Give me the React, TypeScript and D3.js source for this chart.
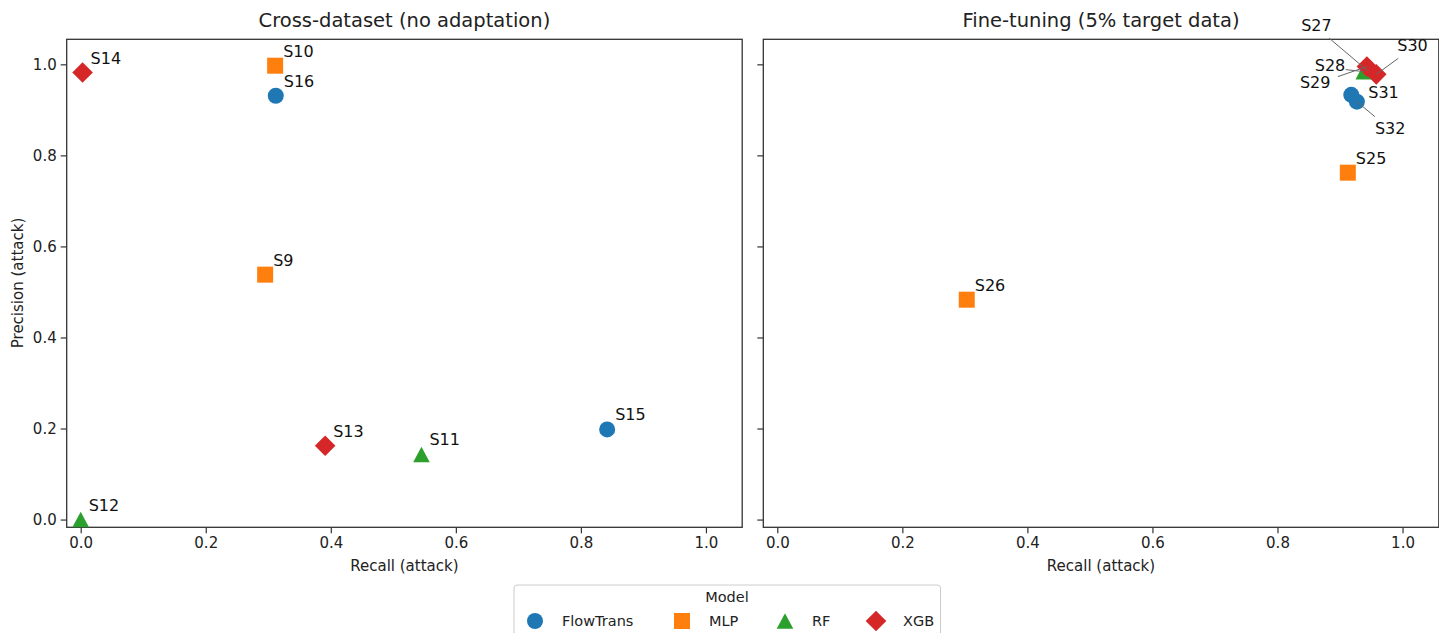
import React, { useEffect, useRef } from "react";
import * as d3 from "d3";

const models = ["FlowTrans", "MLP", "RF", "XGB"];
const modelColors = ["#1f77b4", "#ff7f0e", "#2ca02c", "#d62728"];

// left panel: cross-dataset
const leftIds = ["S9", "S10", "S11", "S12", "S13", "S14", "S15", "S16"];
const leftModel = ["MLP", "MLP", "RF", "RF", "XGB", "XGB", "FlowTrans", "FlowTrans"];
const leftRecall = [0.295, 0.311, 0.545, 0.0, 0.391, 0.003, 0.842, 0.312];
const leftPrecision = [0.538, 0.997, 0.143, 0.0, 0.162, 0.982, 0.198, 0.931];

// right panel: fine-tuning
const rightIds = ["S25", "S26", "S27", "S28", "S29", "S30", "S31", "S32"];
const rightModel = ["MLP", "MLP", "RF", "RF", "XGB", "XGB", "FlowTrans", "FlowTrans"];
const rightRecall = [0.9125, 0.303, 0.945, 0.938, 0.943, 0.958, 0.918, 0.927];
const rightPrecision = [0.762, 0.483, 0.985, 0.984, 0.995, 0.978, 0.933, 0.918];

const ticks = [0, 0.2, 0.4, 0.6, 0.8, 1.0];

// where the crowded labels were pushed to (text start dx/dy, leader line start)
const labelMoves: Record<string, number[]> = {
  S27: [-67, -40, -39, -33],
  S28: [-49, -1, -18, -2],
  S29: [-67, 21, -29, 10],
  S30: [21, -23, 22, -16],
  S31: [17, 3],
  S32: [18, 32, 18, 15],
};

const FONT = "DejaVu Sans";

function markerPath(model: string) {
  if (model === "FlowTrans") return d3.symbol(d3.symbolCircle, 201)();
  if (model === "MLP") return "M-8,-8L8,-8L8,8L-8,8Z";
  if (model === "RF") return "M0,-7.8L8.3,7.8L-8.3,7.8Z";
  return "M0,-10.3L10.3,0L0,10.3L-10.3,0Z";
}

function App() {
  const ref = useRef<SVGSVGElement>(null);

  useEffect(() => {
    const svg = d3.select(ref.current);
    svg.selectAll("*").remove();

    const y = d3.scaleLinear().domain([-0.017, 1.055]).range([527.3, 39.3]);

    const panels = [
      { x0: 66.7, title: "Cross-dataset (no adaptation)", ids: leftIds, mdl: leftModel, rx: leftRecall, py: leftPrecision, yLabels: true },
      { x0: 763.3, title: "Fine-tuning (5% target data)", ids: rightIds, mdl: rightModel, rx: rightRecall, py: rightPrecision, yLabels: false },
    ];

    panels.forEach((p) => {
      const x = d3.scaleLinear().domain([-0.0224, 1.058]).range([p.x0, p.x0 + 675.5]);
      const g = svg.append("g");

      // x axis
      const xa = g.append("g").attr("transform", "translate(0,527.3)")
        .call(d3.axisBottom(x).tickValues(ticks).tickFormat(d3.format(".1f")).tickSize(6).tickPadding(4));
      xa.select(".domain").remove();
      xa.selectAll("line").attr("stroke", "#333").attr("stroke-width", 1.2);
      xa.selectAll("text").attr("font-family", FONT).attr("font-size", 15).attr("fill", "#222");

      const ya = g.append("g").attr("transform", `translate(${p.x0},0)`)
        .call(d3.axisLeft(y).tickValues(ticks).tickFormat(p.yLabels ? d3.format(".1f") : () => "").tickSize(6).tickPadding(4));
      ya.select(".domain").remove();
      ya.selectAll("line").attr("stroke", "#333").attr("stroke-width", 1.2);
      ya.selectAll("text").attr("font-family", FONT).attr("font-size", 15).attr("fill", "#222");

      g.append("rect").attr("x", p.x0).attr("y", 39.3).attr("width", 675.5).attr("height", 488)
        .attr("fill", "none").attr("stroke", "#333").attr("stroke-width", 1.3);

      g.append("text").attr("x", p.x0 + 337.7).attr("y", 27).attr("text-anchor", "middle")
        .attr("font-family", FONT).attr("font-size", 19.5).attr("fill", "#222").text(p.title);
      g.append("text").attr("x", p.x0 + 337.7).attr("y", 571).attr("text-anchor", "middle")
        .attr("font-family", FONT).attr("font-size", 15).attr("fill", "#222").text("Recall (attack)");

      const pts = p.ids.map((id, i) => ({ id, m: p.mdl[i], cx: x(p.rx[i]), cy: y(p.py[i]) }));
      models.forEach((m, mi) => {
        pts.filter((d) => d.m === m).forEach((d) => {
          g.append("path").attr("d", markerPath(m)).attr("transform", `translate(${d.cx},${d.cy})`)
            .attr("fill", modelColors[mi]);
        });
      });

      pts.forEach((d) => {
        const mv = labelMoves[d.id];
        const dx = mv ? mv[0] : 8;
        const dy = mv ? mv[1] : -9;
        if (mv && mv.length > 2) {
          g.append("line").attr("x1", d.cx + mv[2]).attr("y1", d.cy + mv[3]).attr("x2", d.cx).attr("y2", d.cy)
            .attr("stroke", "#666").attr("stroke-width", 1);
        }
        g.append("text").attr("x", d.cx + dx).attr("y", d.cy + dy)
          .attr("font-family", FONT).attr("font-size", 16).attr("fill", "#111").text(d.id);
      });
    });

    svg.append("text").attr("transform", "translate(23,283) rotate(-90)").attr("text-anchor", "middle")
      .attr("font-family", FONT).attr("font-size", 15).attr("fill", "#222").text("Precision (attack)");

    // legend
    const lg = svg.append("g");
    lg.append("rect").attr("x", 514).attr("y", 585).attr("width", 426.5).attr("height", 60).attr("rx", 3)
      .attr("fill", "white").attr("stroke", "#ccc").attr("stroke-width", 1);
    lg.append("text").attr("x", 727).attr("y", 602).attr("text-anchor", "middle")
      .attr("font-family", FONT).attr("font-size", 14.5).attr("fill", "#222").text("Model");
    const lx = d3.scaleOrdinal<string, number>().domain(models).range([535, 682, 785, 876]);
    models.forEach((m, mi) => {
      lg.append("path").attr("d", markerPath(m)).attr("transform", `translate(${lx(m)},621)`).attr("fill", modelColors[mi]);
      lg.append("text").attr("x", lx(m) + 27).attr("y", 626).attr("font-family", FONT).attr("font-size", 14.5)
        .attr("fill", "#222").text(m);
    });
  }, []);

  return (
    <svg ref={ref} width={1439} height={633}
      style={{ position: "absolute", left: 0, top: 0, background: "white", display: "block" }} />
  );
}

export default App;
